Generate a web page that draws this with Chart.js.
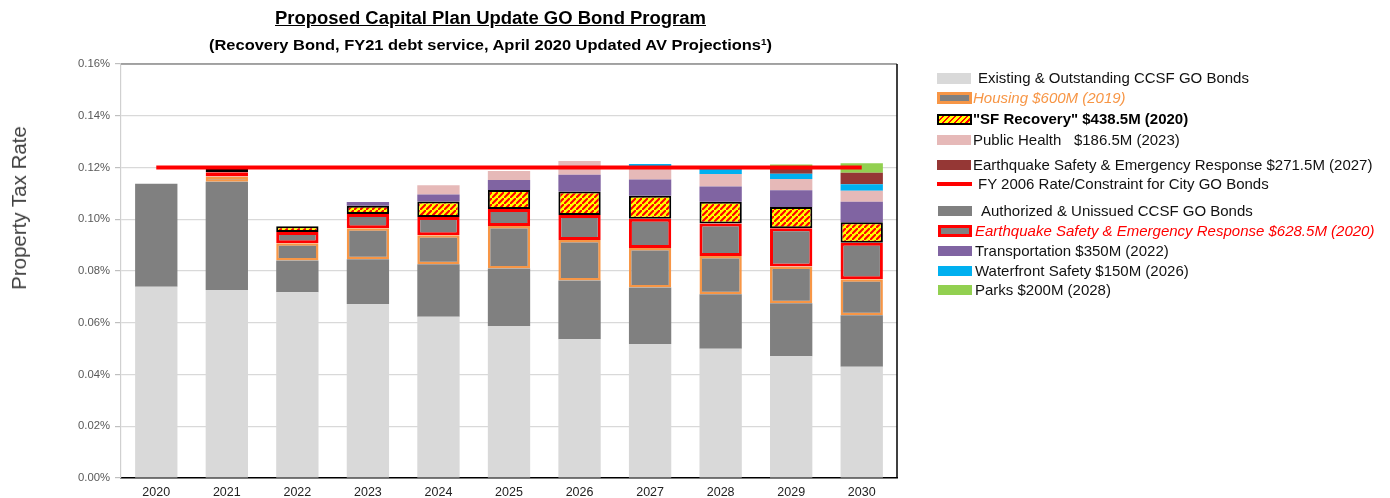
<!DOCTYPE html>
<html>
<head>
<meta charset="utf-8">
<script src="https://cdn.jsdelivr.net/npm/chart.js@4/dist/chart.umd.min.js"></script>
<style>
  html, body { margin:0; padding:0; background:#fff; }
  body { width:1390px; height:498px; position:relative; overflow:hidden; font-family:"Liberation Sans", Arial, sans-serif; }
  #wrap { position:absolute; left:0; top:0; width:900px; height:498px; }
  .ttl { position:absolute; white-space:nowrap; font-family:"Liberation Sans Narrow","Liberation Sans",Arial,sans-serif; font-weight:bold; color:#000; transform-origin:0 50%; }
  #title { font-size:18px; text-decoration:underline; }
  #subtitle { font-size:15px; }
  #ytitle { position:absolute; left:19px; top:208px; font-size:20.5px; color:#404040; white-space:nowrap; transform:translate(-50%,-50%) rotate(-90deg); }
  .lg { position:absolute; left:0; height:20px; font-size:15px; line-height:20px; white-space:pre; color:#111; }
  .sw { position:absolute; box-sizing:border-box; }
  .tx { position:absolute; top:0; white-space:pre; }
</style>
</head>
<body>
<div id="wrap"><canvas id="c"></canvas></div>
<div id="title" class="ttl">Proposed Capital Plan Update GO Bond Program</div>
<div id="subtitle" class="ttl">(Recovery Bond, FY21 debt service, April 2020 Updated AV Projections<sup style="font-size:9px;vertical-align:5px">1</sup>)</div>
<div id="ytitle">Property Tax Rate</div>
<div id="legend"></div>
<script>
// ---- data (values in percent) ----
const years = ['2020','2021','2022','2023','2024','2025','2026','2027','2028','2029','2030'];
const existing      = [0.0739,0.0727,0.0718,0.0672,0.0623,0.0587,0.0536,0.0518,0.0500,0.0471,0.0430];
const authorized    = [0.0398,0.0418,0.0123,0.0173,0.0203,0.0223,0.0227,0.0218,0.0210,0.0204,0.0199];
const housing       = [null,0.0020,0.0066,0.0120,0.0112,0.0164,0.0157,0.0153,0.0148,0.0142,0.0139];
const eq2020        = [null,0.0017,0.0044,0.0055,0.0071,0.0066,0.0096,0.0113,0.0126,0.0148,0.0141];
const recovery      = [null,0.0012,0.0022,0.0032,0.0060,0.0073,0.0091,0.0089,0.0084,0.0082,0.0079];
const transportation= [null,null,null,0.0015,0.0027,0.0039,0.0065,0.0063,0.0059,0.0065,0.0080];
const publicHealth  = [null,null,null,null,0.0035,0.0034,0.0053,0.0043,0.0048,0.0044,0.0042];
const waterfront    = [null,null,null,null,null,null,null,0.0017,0.0020,0.0020,0.0025];
const eq2027        = [null,null,null,null,null,null,null,null,null,0.0021,0.0045];
const parks         = [null,null,null,null,null,null,null,null,null,0.0015,0.0036];
const constraint    = [0.12,0.12,0.12,0.12,0.12,0.12,0.12,0.12,0.12,0.12,0.12];
const yTicks = [0,0.02,0.04,0.06,0.08,0.10,0.12,0.14,0.16];

// hatch pattern
const P = 6;
const pc = document.createElement('canvas'); pc.width = P; pc.height = P;
const px = pc.getContext('2d');
px.fillStyle = '#FFFF00'; px.fillRect(0,0,P,P);
px.strokeStyle = '#FF0000'; px.lineWidth = 2.1;
px.beginPath();
px.moveTo(-1,P+1); px.lineTo(P+1,-1);
px.moveTo(-P-1,1); px.lineTo(1,-P-1);
px.moveTo(-1+P,2*P+1); px.lineTo(2*P+1,P-1);
px.stroke();
const hatch = document.getElementById('c').getContext('2d').createPattern(pc,'repeat');

function bar(label, data, bg, border, bw) {
  return { type:'bar', label, data, backgroundColor:bg, borderColor:border||bg, borderWidth:bw||0,
           borderSkipped:false, stack:'s', order:1, barPercentage:0.6, categoryPercentage:1.0 };
}

const frame = {
  id:'frame',
  beforeDatasetsDraw(chart){
    const a = chart.chartArea, c = chart.ctx;
    c.save();
    c.strokeStyle = '#8c8c8c'; c.lineWidth = 1.5;
    c.beginPath(); c.moveTo(a.left, a.top); c.lineTo(a.right, a.top); c.stroke();
    c.strokeStyle = '#000'; c.lineWidth = 1.5;
    c.beginPath(); c.moveTo(a.right, a.top); c.lineTo(a.right, a.bottom); c.stroke();
    c.restore();
  }
};

new Chart(document.getElementById('c'), {
  data: {
    labels: years,
    datasets: [
      { type:'line', label:'FY 2006 Rate/Constraint for City GO Bonds', data:constraint, borderColor:'#FF0000',
        borderWidth:4, pointRadius:0, fill:false, stack:'line', order:0 },
      bar('Existing & Outstanding CCSF GO Bonds', existing, '#D9D9D9'),
      bar('Authorized & Unissued CCSF GO Bonds', authorized, '#808080'),
      bar('Housing $600M (2019)', housing, '#808080', '#F79646', 2.5),
      bar('Earthquake Safety & Emergency Response $628.5M (2020)', eq2020, '#808080', '#FF0000', 3),
      bar('"SF Recovery" $438.5M (2020)', recovery, hatch, '#000000', 2),
      bar('Transportation $350M (2022)', transportation, '#8064A2'),
      bar('Public Health $186.5M (2023)', publicHealth, '#E6B9B8'),
      bar('Waterfront Safety $150M (2026)', waterfront, '#00B0F0'),
      bar('Earthquake Safety & Emergency Response $271.5M (2027)', eq2027, '#953735'),
      bar('Parks $200M (2028)', parks, '#92D050')
    ]
  },
  options: {
    responsive:true, maintainAspectRatio:false, animation:false,
    layout:{ padding:{ top:64, right:3, left:0, bottom:0 } },
    plugins:{ legend:{display:false}, tooltip:{enabled:false}, title:{display:false} },
    scales:{
      x:{ stacked:true, offset:true,
          grid:{ display:false, drawTicks:false },
          border:{ display:true, color:'#000', width:1.5 },
          ticks:{ color:'#222', font:{ family:'Liberation Sans', size:12.5 }, padding:7 },
          afterFit(s){ s.height = 20; } },
      y:{ stacked:true, min:0, max:0.16,
          afterBuildTicks(s){ s.ticks = yTicks.map(v=>({value:v})); },
          grid:{ color:'#D9D9D9', lineWidth:1.2, tickLength:6, tickColor:'#BFBFBF' },
          border:{ display:true, color:'#D0D0D0', width:1.2 },
          ticks:{ color:'#595959', font:{ family:'Liberation Sans', size:11.3 }, padding:5,
                  callback:v=>v.toFixed(2)+'%' },
          afterFit(s){ s.width = 121; } }
    }
  },
  plugins:[frame]
});

// titles: fit width
function place(id, left, width, cy){
  const el = document.getElementById(id);
  const w = el.getBoundingClientRect().width, h = el.getBoundingClientRect().height;
  el.style.left = left+'px'; el.style.top = (cy - h/2)+'px';
  el.style.transform = 'scaleX('+(width/w)+')';
}
place('title', 275, 431, 18);
place('subtitle', 209, 563, 44);

// legend
const items = [
  {y:78,  sw:{l:937,w:34,h:11,bg:'#D9D9D9'}, tx:'Existing & Outstanding CCSF GO Bonds', tl:978},
  {y:98,  sw:{l:937,w:35,h:12,bg:'#808080',bd:'3px solid #F79646'}, tx:'Housing $600M (2019)', tl:973, st:'font-style:italic;color:#F79646'},
  {y:119, sw:{l:937,w:35,h:11,bg:'repeating-linear-gradient(135deg,#FFFF00 0 2.3px,#FF0000 2.3px 4.2px)',bd:'2px solid #000'}, tx:'"SF Recovery" $438.5M (2020)', tl:973, st:'font-weight:bold;color:#000'},
  {y:140, sw:{l:937,w:34,h:10,bg:'#E6B9B8'}, tx:'Public Health   $186.5M (2023)', tl:973},
  {y:165, sw:{l:937,w:34,h:10,bg:'#953735'}, tx:'Earthquake Safety & Emergency Response $271.5M (2027)', tl:973},
  {y:184, sw:{l:937,w:35,h:4,bg:'#FF0000'}, tx:'FY 2006 Rate/Constraint for City GO Bonds', tl:978},
  {y:211, sw:{l:938,w:34,h:10,bg:'#808080'}, tx:'Authorized & Unissued CCSF GO Bonds', tl:981},
  {y:231, sw:{l:938,w:34,h:12,bg:'#808080',bd:'3px solid #FF0000'}, tx:'Earthquake Safety & Emergency Response $628.5M (2020)', tl:975, st:'font-style:italic;color:#FF0000'},
  {y:251, sw:{l:938,w:34,h:10,bg:'#8064A2'}, tx:'Transportation $350M (2022)', tl:975},
  {y:271, sw:{l:938,w:34,h:10,bg:'#00B0F0'}, tx:'Waterfront Safety $150M (2026)', tl:975},
  {y:290, sw:{l:938,w:34,h:10,bg:'#92D050'}, tx:'Parks $200M (2028)', tl:975}
];
const lg = document.getElementById('legend');
items.forEach(it=>{
  const row = document.createElement('div');
  row.className='lg'; row.style.top=(it.y-10)+'px'; row.style.width='1390px';
  const s = document.createElement('div'); s.className='sw';
  s.style.left=it.sw.l+'px'; s.style.width=it.sw.w+'px'; s.style.height=it.sw.h+'px';
  s.style.top=(10-it.sw.h/2)+'px'; s.style.background=it.sw.bg; if(it.sw.bd) s.style.border=it.sw.bd;
  const t = document.createElement('div'); t.className='tx'; t.style.left=it.tl+'px';
  t.textContent = it.tx; if(it.st) t.style.cssText += it.st;
  row.appendChild(s); row.appendChild(t); lg.appendChild(row);
});
</script>
</body>
</html>
